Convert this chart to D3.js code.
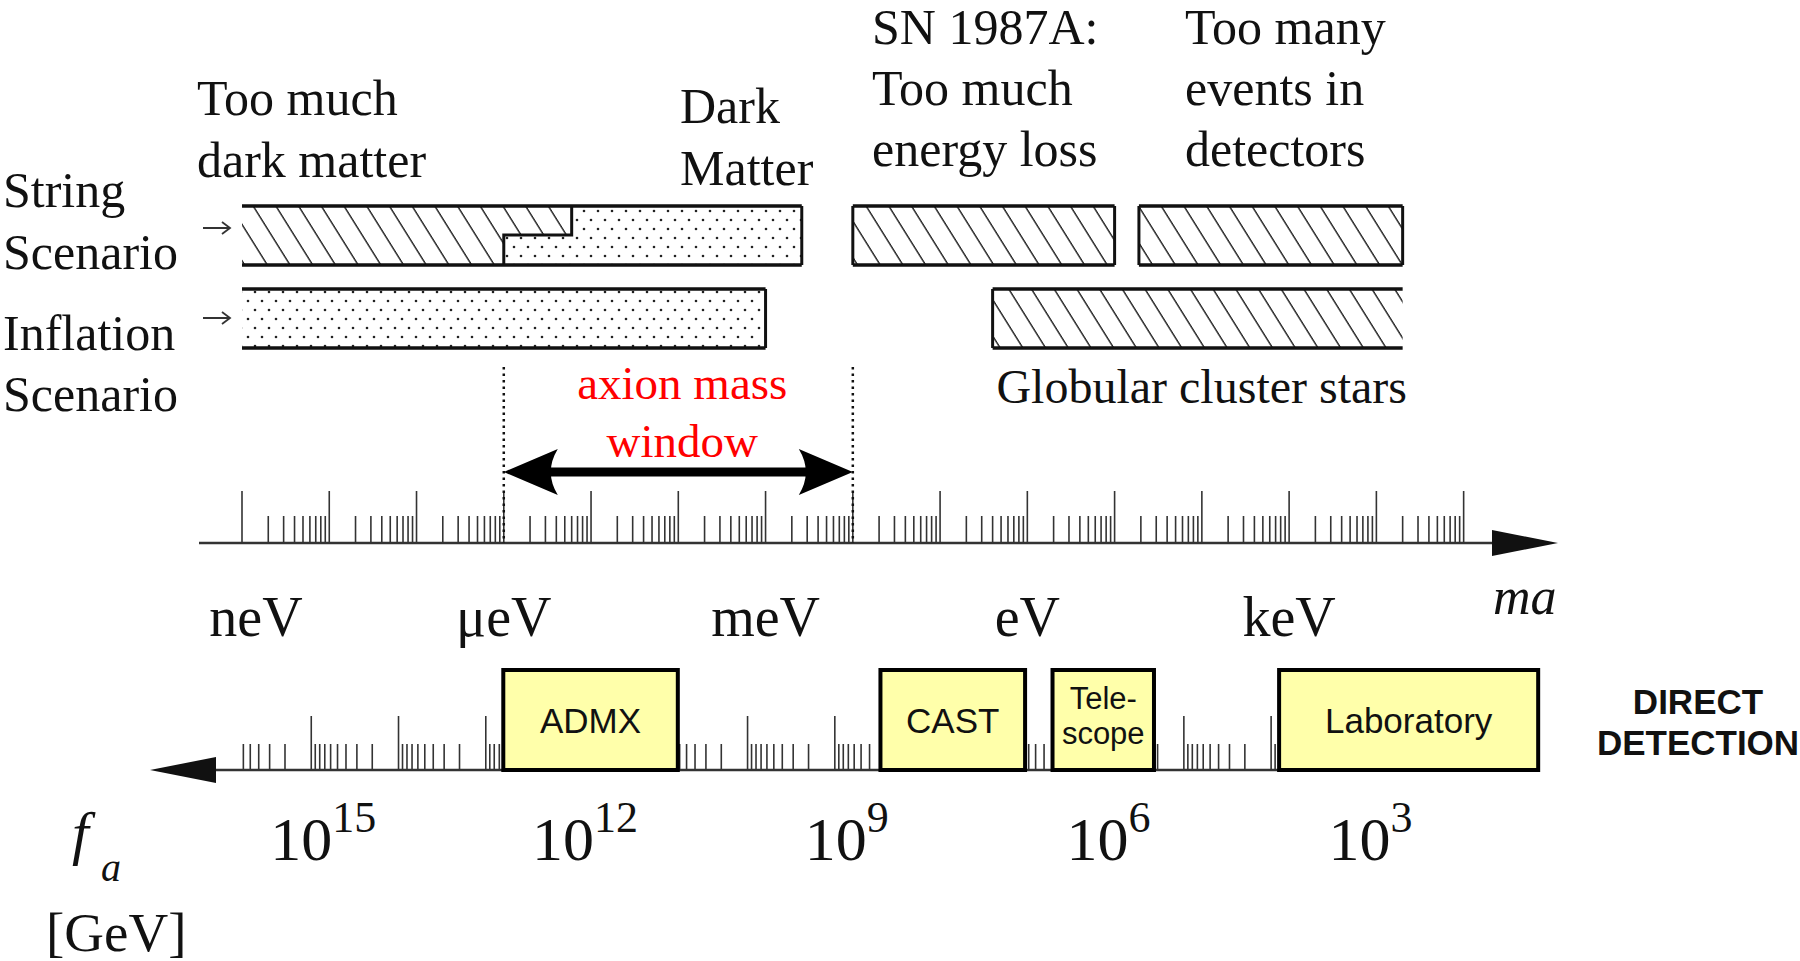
<!DOCTYPE html>
<html>
<head>
<meta charset='utf-8' />
<title>axion mass window</title>
<style>
  body { margin: 0; background: #fff; }
  svg text { font-family: "Liberation Serif", "Times New Roman", serif; fill: #111; }
</style>
</head>
<body>
<div id="wrapper"></div>
<script src='https://d3js.org/d3.v7.min.js' charset='utf-8'></script>
<script>
const width = 1800
const height = 961

// m_a axis (eV), f_a axis (GeV)
const massDomain = [1e-9, 1e5]
const massLabels = ['neV', 'μeV', 'meV', 'eV', 'keV']
const massLabelValues = [1e-9, 1e-6, 1e-3, 1, 1e3]
const faLabelExponents = ['15', '12', '9', '6', '3']
const faLabelValues = [1e15, 1e12, 1e9, 1e6, 1e3]

// exclusion / dark-matter bands, in m_a (eV)
const stringBands = [
  { from: 1e-9, to: 2.6e-3, fill: 'dots', openLeft: true },
  { from: 1e-2, to: 10, fill: 'hatch' },
  { from: 19, to: 2e4, fill: 'hatch' }
]
// "too much dark matter" part of the string band (stepped)
const stringOverclosure = { from: 1e-9, lowerTo: 1e-6, upperTo: 6e-6 }
const inflationBands = [
  { from: 1e-9, to: 1e-3, fill: 'dots', openLeft: true },
  { from: 0.4, to: 2e4, fill: 'hatch', openRight: true }
]
const massWindow = [1e-6, 1e-2]

// direct detection experiments, in f_a (GeV)
const experiments = ['ADMX', 'CAST', 'Tele-|scope', 'Laboratory']
const expHigh = [6.3e12, 3.0e8, 3.2e6, 8.1e3]
const expLow = [6.3e10, 6.6e6, 2.2e5, 8.7]

const decade = 87.26
const x = d3.scaleLog().domain(massDomain).range([242, 242 + 14 * decade])
const xf = d3.scaleLog().domain([1e16, 1]).range([224, 224 + 16 * decade])

const svg = d3.select('#wrapper').append('svg')
  .attr('width', width).attr('height', height)

const defs = svg.append('defs')
const hatch = defs.append('pattern').attr('id', 'hatch')
  .attr('patternUnits', 'userSpaceOnUse')
  .attr('width', 22.7).attr('height', 10)
  .attr('patternTransform', 'skewX(32)')
hatch.append('line').attr('x1', 11).attr('x2', 11).attr('y1', -1).attr('y2', 11)
  .attr('stroke', '#222').attr('stroke-width', 1.7)
const dots = defs.append('pattern').attr('id', 'dots')
  .attr('patternUnits', 'userSpaceOnUse')
  .attr('width', 14).attr('height', 18)
dots.append('circle').attr('cx', 3).attr('cy', 4).attr('r', 1.3).attr('fill', '#222')
dots.append('circle').attr('cx', 10).attr('cy', 13).attr('r', 1.3).attr('fill', '#222')

const isMajor = d => Math.abs(Math.log10(d) - Math.round(Math.log10(d))) < 1e-9

// ---------- top axis (m_a) ----------
const axisY = 543
svg.append('line').attr('x1', 199).attr('x2', 1495).attr('y1', axisY).attr('y2', axisY)
  .attr('stroke', '#333').attr('stroke-width', 2.5)
svg.append('path')
  .attr('d', `M1558,${axisY} L1492,${axisY - 13} L1492,${axisY + 13} Z`)
  .attr('fill', '#111')
svg.append('g').selectAll('line')
  .data(x.ticks(100))
  .join('line')
  .attr('x1', d => x(d)).attr('x2', d => x(d))
  .attr('y1', d => isMajor(d) ? axisY - 52 : axisY - 27)
  .attr('y2', axisY)
  .attr('stroke', '#333').attr('stroke-width', 1.6)

svg.append('g').selectAll('text')
  .data(massLabels)
  .join('text')
  .attr('x', (d, i) => x(massLabelValues[i]) + (i === 0 ? 14 : 0))
  .attr('y', 636)
  .attr('text-anchor', 'middle')
  .attr('font-size', 56)
  .text(d => d)
svg.append('text').attr('x', 1493).attr('y', 614)
  .attr('font-size', 52).attr('font-style', 'italic').text('ma')

// ---------- axion mass window ----------
massWindow.forEach(m => {
  svg.append('line').attr('x1', x(m)).attr('x2', x(m)).attr('y1', 367).attr('y2', axisY)
    .attr('stroke', '#111').attr('stroke-width', 2.5).attr('stroke-dasharray', '2.5 4')
})
const wy = 472, w0 = x(massWindow[0]), w1 = x(massWindow[1])
svg.append('line').attr('x1', w0 + 40).attr('x2', w1 - 40).attr('y1', wy).attr('y2', wy)
  .attr('stroke', '#000').attr('stroke-width', 9)
svg.append('path')
  .attr('d', `M${w0},${wy} L${w0 + 54},${wy - 23} Q${w0 + 40},${wy} ${w0 + 54},${wy + 23} Z`)
  .attr('fill', '#000')
svg.append('path')
  .attr('d', `M${w1},${wy} L${w1 - 54},${wy - 23} Q${w1 - 40},${wy} ${w1 - 54},${wy + 23} Z`)
  .attr('fill', '#000')
const wc = (w0 + w1) / 2 + 4
svg.append('text').attr('x', wc).attr('y', 399).attr('text-anchor', 'middle')
  .attr('font-size', 47).style('fill', '#f00').text('axion mass')
svg.append('text').attr('x', wc).attr('y', 457).attr('text-anchor', 'middle')
  .attr('font-size', 47).style('fill', '#f00').text('window')

// ---------- bands ----------
function drawBand(b, y0, y1) {
  const x0 = x(b.from), x1 = x(b.to)
  svg.append('rect').attr('x', x0).attr('y', y0).attr('width', x1 - x0).attr('height', y1 - y0)
    .attr('fill', `url(#${b.fill})`)
}
function drawBorders(b, y0, y1) {
  const x0 = x(b.from), x1 = x(b.to)
  const g = svg.append('g').attr('stroke', '#111').attr('fill', 'none')
  g.append('line').attr('x1', x0).attr('x2', x1).attr('y1', y0).attr('y2', y0).attr('stroke-width', 3.5)
  g.append('line').attr('x1', x0).attr('x2', x1).attr('y1', y1).attr('y2', y1).attr('stroke-width', 3.5)
  if (!b.openLeft) g.append('line').attr('x1', x0).attr('x2', x0).attr('y1', y0).attr('y2', y1).attr('stroke-width', 3)
  if (!b.openRight) g.append('line').attr('x1', x1).attr('x2', x1).attr('y1', y0).attr('y2', y1).attr('stroke-width', 3)
}

const sy0 = 206, sy1 = 265, syMid = 235
stringBands.forEach(b => drawBand(b, sy0, sy1))
{
  const a = x(stringOverclosure.from), l = x(stringOverclosure.lowerTo), u = x(stringOverclosure.upperTo)
  const pts = `M${a},${sy0} L${u},${sy0} L${u},${syMid} L${l},${syMid} L${l},${sy1} L${a},${sy1} Z`
  svg.append('path').attr('d', pts).attr('fill', '#fff')
  svg.append('path').attr('d', pts).attr('fill', 'url(#hatch)')
  svg.append('path').attr('d', `M${l},${sy1} L${l},${syMid} L${u},${syMid} L${u},${sy0}`)
    .attr('fill', 'none').attr('stroke', '#111').attr('stroke-width', 3)
}
stringBands.forEach(b => drawBorders(b, sy0, sy1))

const iy0 = 289, iy1 = 348
inflationBands.forEach(b => { drawBand(b, iy0, iy1); drawBorders(b, iy0, iy1) })

// scenario arrows
;[228, 318].forEach(y => {
  svg.append('path').attr('d', `M203,${y} L230,${y} M222,${y - 6} L230,${y} L222,${y + 6}`)
    .attr('fill', 'none').attr('stroke', '#333').attr('stroke-width', 1.8)
})

// ---------- text annotations ----------
function lines(xp, ys, arr, size) {
  arr.forEach((t, i) => svg.append('text').attr('x', xp).attr('y', ys[i]).attr('font-size', size).text(t))
}
lines(197, [115, 177], ['Too much', 'dark matter'], 50)
lines(680, [123, 185], ['Dark', 'Matter'], 50)
lines(872, [44, 105, 166], ['SN 1987A:', 'Too much', 'energy loss'], 50)
lines(1185, [44, 105, 166], ['Too many', 'events in', 'detectors'], 50)
lines(3, [207, 269], ['String', 'Scenario'], 50)
lines(3, [350, 411], ['Inflation', 'Scenario'], 50)
svg.append('text').attr('x', 1407).attr('y', 403).attr('text-anchor', 'end')
  .attr('font-size', 48).text('Globular cluster stars')

// ---------- bottom axis (f_a) ----------
const fy = 770
svg.append('line').attr('x1', 212).attr('x2', 1470).attr('y1', fy).attr('y2', fy)
  .attr('stroke', '#333').attr('stroke-width', 2.5)
svg.append('path')
  .attr('d', `M150,${fy} L216,${fy - 13} L216,${fy + 13} Z`)
  .attr('fill', '#111')
svg.append('g').selectAll('line')
  .data(xf.ticks(100).filter(d => xf(d) >= 241 && xf(d) <= 1465))
  .join('line')
  .attr('x1', d => xf(d)).attr('x2', d => xf(d))
  .attr('y1', d => isMajor(d) ? fy - 54 : fy - 26)
  .attr('y2', fy)
  .attr('stroke', '#333').attr('stroke-width', 1.6)

const boxes = svg.append('g').selectAll('g')
  .data(experiments)
  .join('g')
boxes.append('rect')
  .attr('x', (d, i) => xf(expHigh[i]))
  .attr('width', (d, i) => xf(expLow[i]) - xf(expHigh[i]))
  .attr('y', 670).attr('height', fy - 670)
  .attr('fill', '#ffffaa').attr('stroke', '#000').attr('stroke-width', 4)
boxes.each(function (d, i) {
  const parts = d.split('|')
  const cx = (xf(expHigh[i]) + xf(expLow[i])) / 2
  const ys = parts.length === 1 ? [733] : [709, 744]
  parts.forEach((p, k) => {
    d3.select(this).append('text')
      .attr('x', cx).attr('y', ys[k]).attr('text-anchor', 'middle')
      .style('font-family', '"Liberation Sans", Arial, sans-serif')
      .attr('font-size', parts.length === 1 ? 35 : 31).text(p)
  })
})

svg.append('g').selectAll('text')
  .data(faLabelExponents)
  .join('text')
  .attr('x', (d, i) => xf(faLabelValues[i]) + 12)
  .attr('y', 860)
  .attr('text-anchor', 'middle')
  .attr('font-size', 62)
  .each(function (d) {
    d3.select(this).append('tspan').text('10')
    d3.select(this).append('tspan').attr('font-size', 44).attr('dy', -28).text(d)
  })

svg.append('text').attr('x', 72).attr('y', 853).attr('font-size', 60)
  .attr('font-style', 'italic').text('f')
svg.append('text').attr('x', 101).attr('y', 881).attr('font-size', 40)
  .attr('font-style', 'italic').text('a')
svg.append('text').attr('x', 46).attr('y', 951).attr('font-size', 55).text('[GeV]')

;['DIRECT', 'DETECTION'].forEach((t, i) => {
  svg.append('text').attr('x', 1698).attr('y', 714 + i * 41).attr('text-anchor', 'middle')
    .style('font-family', '"Liberation Sans", Arial, sans-serif')
    .attr('font-weight', 'bold').attr('font-size', 35).text(t)
})
</script>
</body>
</html>
